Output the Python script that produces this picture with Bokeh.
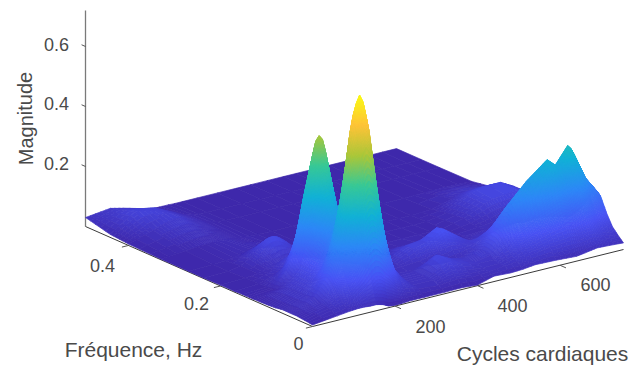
from bokeh.plotting import figure
from bokeh.models import ColumnDataSource, Range1d
from bokeh.core.properties import value
from bokeh.embed import file_html
from bokeh.resources import INLINE

# ---- data -----------------------------------------------------------------
frequency = [0, .012, .024, .036, .043, .05, .057, .064, .08, .095, .11, .125, .131, .138, .145, .152, .17, .2, .237, .27, .33, .4, .44, .4935]
cycles = [0, 60, 90, 110, 125, 140, 155, 162, 170, 178, 185, 200, 215, 235, 270, 320, 365, 400, 440, 480, 510, 540, 590, 640, 660, 690, 720, 754]

z_f00 = [.005,.015,.02,.022,.022,.02,.02,.018,.015,.01,.005,.003,.003,.005,.005,.005,.006,.002,.018,.015,.017,.022,.02,.016,.02,.027,.025,.022]
z_f01 = [.008,.025,.035,.05,.065,.08,.10,.11,.115,.11,.10,.08,.055,.04,.025,.02,.025,.02,.025,.03,.035,.045,.055,.06,.055,.065,.05,.04]
z_f02 = [.01,.03,.055,.09,.14,.20,.27,.29,.30,.29,.27,.20,.125,.065,.03,.03,.045,.035,.03,.03,.045,.065,.085,.10,.095,.11,.08,.06]
z_f03 = [.012,.035,.08,.145,.22,.325,.455,.495,.515,.495,.455,.325,.205,.085,.03,.03,.065,.05,.035,.035,.065,.105,.145,.175,.16,.19,.135,.095]
z_f04 = [.012,.04,.095,.175,.27,.40,.56,.61,.635,.61,.56,.40,.25,.10,.03,.03,.07,.05,.035,.045,.08,.135,.185,.225,.21,.25,.175,.12]
z_f05 = [.012,.045,.10,.19,.29,.43,.60,.655,.68,.655,.60,.43,.27,.11,.03,.03,.075,.05,.035,.05,.095,.16,.225,.275,.255,.305,.21,.145]
z_f06 = [.012,.04,.095,.175,.27,.40,.56,.61,.635,.61,.56,.40,.25,.10,.03,.03,.075,.05,.035,.05,.10,.17,.24,.29,.265,.32,.22,.155]
z_f07 = [.012,.04,.085,.15,.23,.34,.47,.51,.53,.51,.47,.34,.215,.09,.03,.03,.065,.045,.035,.05,.10,.17,.24,.295,.27,.325,.225,.155]
z_f08 = [.008,.04,.065,.10,.14,.195,.25,.265,.27,.262,.245,.19,.125,.06,.025,.02,.025,.02,.02,.04,.075,.125,.175,.217,.19,.23,.158,.108]
z_f09 = [.006,.04,.06,.085,.115,.16,.21,.228,.233,.228,.21,.16,.105,.055,.025,.025,.03,.04,.055,.045,.06,.08,.11,.135,.125,.145,.10,.07]
z_f10 = [.005,.035,.06,.085,.12,.175,.24,.262,.27,.262,.24,.175,.115,.055,.022,.03,.06,.07,.10,.06,.03,.04,.065,.08,.075,.085,.06,.04]
z_f11 = [.005,.02,.05,.085,.14,.215,.29,.32,.33,.32,.29,.215,.14,.065,.02,.03,.06,.065,.095,.05,.02,.03,.04,.05,.045,.05,.04,.025]
z_f12 = [.004,.014,.055,.10,.175,.28,.375,.41,.42,.41,.375,.275,.18,.085,.022,.025,.05,.05,.075,.04,.018,.025,.035,.04,.035,.04,.035,.022]
z_f13 = [.004,.012,.065,.12,.21,.33,.43,.47,.485,.47,.43,.32,.21,.10,.025,.022,.045,.045,.06,.03,.015,.02,.03,.035,.03,.035,.03,.02]
z_f14 = [.004,.01,.055,.10,.18,.285,.375,.41,.42,.41,.375,.28,.18,.085,.02,.018,.038,.038,.05,.025,.013,.017,.025,.03,.025,.03,.025,.017]
z_f15 = [.004,.009,.04,.075,.13,.205,.27,.295,.30,.295,.27,.20,.13,.06,.015,.015,.03,.03,.04,.02,.012,.015,.02,.025,.02,.025,.02,.015]
z_f16 = [.003,.007,.02,.03,.05,.075,.10,.108,.11,.108,.10,.075,.05,.025,.01,.01,.012,.015,.016,.01,.008,.01,.014,.022,.025,.03,.03,.018]
z_f17 = [.003,.006,.01,.018,.026,.03,.033,.034,.035,.034,.032,.028,.022,.012,.006,.006,.007,.007,.008,.007,.007,.008,.025,.055,.065,.07,.075,.05]
z_f18 = [.002,.004,.012,.028,.046,.066,.08,.082,.082,.078,.072,.055,.035,.017,.005,.004,.004,.005,.005,.005,.005,.006,.018,.055,.07,.075,.075,.05]
z_f19 = [.002,.004,.006,.009,.013,.017,.021,.022,.022,.021,.019,.016,.011,.007,.004,.004,.004,.004,.004,.004,.004,.004,.008,.025,.035,.04,.035,.02]
z_f20 = [.002,.008,.012,.014,.015,.014,.013,.012,.01,.009,.008,.006,.005,.004,.003,.003,.003,.003,.003,.003,.003,.003,.004,.005,.006,.006,.006,.004]
z_f21 = [.005,.03,.045,.05,.05,.04,.03,.027,.025,.02,.015,.01,.006,.004,.003,.003,.003,.003,.003,.003,.003,.003,.003,.003,.003,.003,.003,.003]
z_f22 = [.01,.065,.065,.06,.05,.04,.03,.025,.02,.015,.012,.008,.005,.004,.003,.003,.003,.003,.003,.003,.003,.003,.003,.003,.003,.003,.003,.003]
z_f23 = [.03,.04,.03,.02,.01,.007,.005,.005,.004,.004,.004,.004,.003,.003,.003,.003,.003,.003,.003,.003,.003,.003,.003,.003,.003,.003,.003,.003]
magnitude = [z_f00, z_f01, z_f02, z_f03, z_f04, z_f05, z_f06, z_f07, z_f08, z_f09, z_f10, z_f11,
             z_f12, z_f13, z_f14, z_f15, z_f16, z_f17, z_f18, z_f19, z_f20, z_f21, z_f22, z_f23]

magnitude_ticks = [0.2, 0.4, 0.6]
frequency_ticks = [0, 0.2, 0.4]
cycle_ticks = [200, 400, 600]

# ---- axis box and view ------------------------------------------------------
F_MAX = .4935
C_MAX = 754
Z_MAX = .72
C_LIM = .68
PARULA = [(.2422,.1504,.6603),(.2810,.3228,.9579),(.1786,.5289,.9682),(.0689,.6948,.8394),
          (.2161,.7843,.5923),(.6720,.7793,.2227),(.9970,.7659,.2199),(.9769,.9839,.0805)]


def project(c, f, z):
    x = 312 + 311 * c / C_MAX - 227 * f / F_MAX
    y = 326 - 77 * c / C_MAX - 100 * f / F_MAX - 300 * z
    return x, y


def colour(z):
    t = max(0.0, min(1.0, z / C_LIM)) * (len(PARULA) - 1)
    i = min(int(t), len(PARULA) - 2)
    u = t - i
    r, g, b = [PARULA[i][k] * (1 - u) + PARULA[i + 1][k] * u for k in range(3)]
    return "#%02x%02x%02x" % (round(r * 255), round(g * 255), round(b * 255))


W, H = 629, 367
p = figure(width=W, height=H, output_backend="svg", toolbar_location=None,
           x_range=Range1d(0, W), y_range=Range1d(H, 0),
           min_border=0, outline_line_color=None, background_fill_color="white")
p.axis.visible = False
p.grid.visible = False

# axes
AX = "#3a3a3a"
def seg(a, b, color=AX, width=1.0):
    x0, y0 = project(*a)
    x1, y1 = project(*b)
    p.line([x0, x1], [y0, y1], line_color=color, line_width=width)

seg((0, F_MAX, 0), (0, F_MAX, Z_MAX), "#7a7a7a", 1.3)
seg((0, F_MAX, 0), (0, 0, 0))
seg((0, 0, 0), (C_MAX, 0, 0))
for z in magnitude_ticks:
    seg((0, F_MAX, z), (0, F_MAX + .0085, z), "#555555", 1)
for f in frequency_ticks:
    seg((0, f, 0), (-16, f, 0), "#555555", 1)
for c in cycle_ticks:
    seg((c, 0, 0), (c, -.013, 0), "#555555", 1)

# surface: every grid cell is a facet; steep facets are cut into strips so the
# colour runs smoothly across them (like MATLAB's interpolated shading)
xs, ys, cols = [], [], []
for i in range(len(frequency) - 2, -1, -1):
    for j in range(len(cycles) - 2, -1, -1):
        z00, z01 = magnitude[i][j], magnitude[i][j + 1]
        z10, z11 = magnitude[i + 1][j], magnitude[i + 1][j + 1]
        span = max(z00, z01, z10, z11) - min(z00, z01, z10, z11)
        n = min(10, 1 + int(span / .012))
        for a in range(n - 1, -1, -1):
            for b in range(n - 1, -1, -1):
                quad_x, quad_y, zs = [], [], []
                for da, db in ((0, 0), (0, 1), (1, 1), (1, 0)):
                    u, v = (a + da) / n, (b + db) / n
                    zz = (z00 * (1 - v) + z01 * v) * (1 - u) + (z10 * (1 - v) + z11 * v) * u
                    cc = cycles[j] + (cycles[j + 1] - cycles[j]) * v
                    ff = frequency[i] + (frequency[i + 1] - frequency[i]) * u
                    px, py = project(cc, ff, zz)
                    quad_x.append(px)
                    quad_y.append(py)
                    zs.append(zz)
                xs.append(quad_x)
                ys.append(quad_y)
                cols.append(colour(sum(zs) / 4))

p.patches("xs", "ys", fill_color="c", line_color="c", line_width=0.7,
          source=ColumnDataSource(dict(xs=xs, ys=ys, c=cols)))

# texts
FONT = value("Liberation Sans")
TXT = "#4a4a4a"
def label(x, y, s, size="18px", angle=0):
    p.text([x], [y], text=[s], text_font=FONT, text_font_size=size, text_color=TXT,
           text_align="center", text_baseline="middle", angle=angle)

for z, (x, y) in zip(magnitude_ticks, [(56, 163), (56, 103), (56, 44)]):
    label(x, y, f"{z:.1f}")
for f, (x, y) in zip(frequency_ticks, [(298, 343), (196, 303), (102, 265)]):
    label(x, y, "0" if f == 0 else f"{f:.1f}")
for c, (x, y) in zip(cycle_ticks, [(430, 326), (512, 305), (595, 284)]):
    label(x, y, str(c))
label(25, 118, "Magnitude", "20px", 1.5708)
label(133, 349, "Fréquence, Hz", "21px")
label(542, 353, "Cycles cardiaques", "21px")

open("out.html", "w").write(file_html(p, INLINE))
